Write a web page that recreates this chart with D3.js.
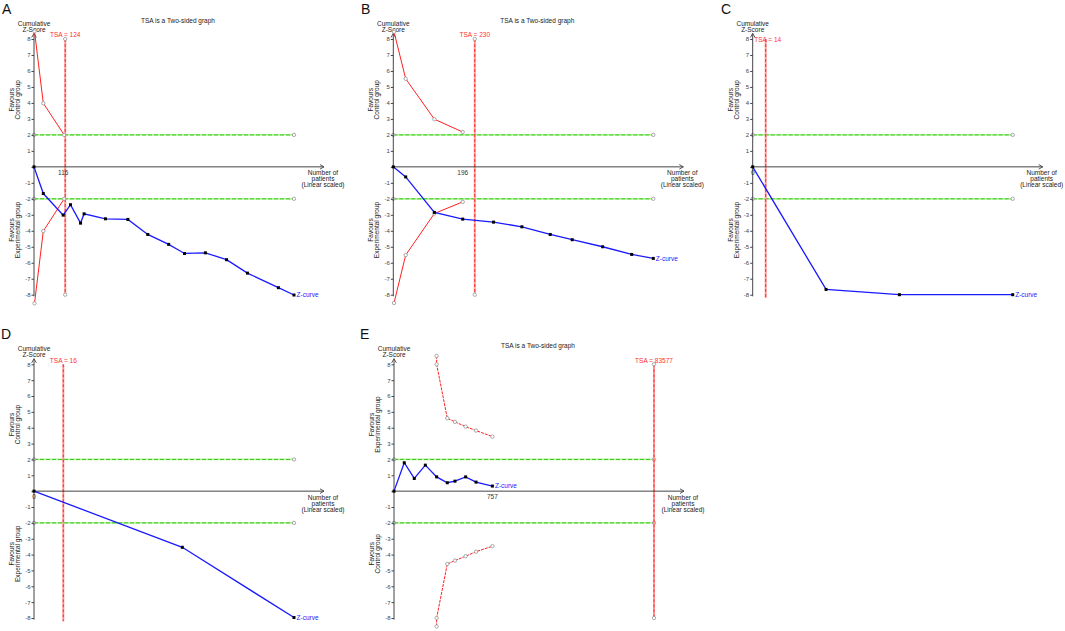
<!DOCTYPE html>
<html>
<head>
<meta charset="utf-8">
<script src="https://cdn.jsdelivr.net/npm/d3@7"></script>
<style>
body { margin: 0; background: #fff; }
svg { display: block; font-family: "Liberation Sans", Arial, sans-serif; }
</style>
</head>
<body>
<svg id="chart" width="1065" height="631"></svg>
<script>
// Every series is a list of [patients, cumulative Z-score]

// Panel A
const zCurveA = [[0,0],[37,-1.67],[116,-3.02],[145,-2.37],[185,-3.52],[199,-2.94],[284,-3.25],[373,-3.29],
                 [452,-4.23],[535,-4.85],[598,-5.42],[681,-5.38],[765,-5.81],[848,-6.65],[971,-7.56],[1033,-8.02]];
const upperA = [[2,8.48],[37,3.98],[120,2.0]];
const lowerA = [[2,-8.54],[37,-4.02],[120,-2.0]];

// Panel B
const zCurveB = [[0,0],[35,-0.63],[116,-2.85],[196,-3.27],[283,-3.46],[363,-3.75],[443,-4.23],[505,-4.56],
                 [591,-5.0],[673,-5.48],[734,-5.73]];
const upperB = [[2,8.45],[35,5.51],[116,2.98],[196,2.18]];
const lowerB = [[2,-8.52],[35,-5.52],[116,-2.92],[196,-2.19]];

// Panel C
const zCurveC = [[0,0],[79,-7.67],[158,-8.0],[280,-8.0]];

// Panel D
const zCurveD = [[0,0],[81,-3.54],[142,-7.97]];

// Panel E
const zCurveE = [[0,0],[79,1.79],[156,0.8],[241,1.64],[328,0.9],[410,0.53],[469,0.63],[551,0.9],[631,0.57],[757,0.32]];
const upperE = [[328,8.53],[328,8.0],[410,4.6],[469,4.37],[551,4.07],[631,3.82],[757,3.44]];
const lowerE = [[328,-8.53],[328,-8.0],[410,-4.59],[469,-4.38],[551,-4.1],[631,-3.82],[757,-3.47]];

// Required information size, x-axis tick and the longest x shown
const tsaValues = [124, 230, 14, 16, 83577];
const xTicks = [116, 196, 0, 0, 757];
const xMaxes = [1033, 734, 280, 142, 2000];
// The software pins an off-scale TSA (panel E) at the right end of the axis
const tsaPlotAt = [124, 230, 14, 16, 2000];

const zTicks = d3.range(-8, 9);

// Layout of the five panels (pixels only, no data)
const panels = [
  {letter: "A", lx: 2,   ly: 14,  ox: 34,    yTop: 39,    yBot: 294.7, title: true,  dots: true,  tsaDy: -2,  top: "Control group", bot: "Experimental group", z: zCurveA, up: upperA, lo: lowerA},
  {letter: "B", lx: 361, ly: 14,  ox: 393.3, yTop: 39,    yBot: 294.7, title: true,  dots: true,  tsaDy: -2,  top: "Control group", bot: "Experimental group", z: zCurveB, up: upperB, lo: lowerB},
  {letter: "C", lx: 721, ly: 14,  ox: 752.7, yTop: 39,    yBot: 294.7, title: false, dots: false, tsaDy: 2.5, top: "Control group", bot: "Experimental group", z: zCurveC},
  {letter: "D", lx: 1,   ly: 339, ox: 34,    yTop: 364.3, yBot: 618,   title: false, dots: false, tsaDy: -1,  top: "Control group", bot: "Experimental group", z: zCurveD},
  {letter: "E", lx: 360, ly: 339, ox: 394,   yTop: 364.3, yBot: 618,   title: true,  dots: true,  tsaDy: -1.5, top: "Experimental group", bot: "Control group", z: zCurveE, up: upperE, lo: lowerE}
];

const svg = d3.select("#chart");
const fs = 6.5;

function circleAt(g, cx, cy) {
  g.append("circle").attr("cx", cx).attr("cy", cy).attr("r", 1.7)
    .attr("fill", "#fff").attr("stroke", "#888").attr("stroke-width", 0.7);
}

function drawPanel(p, i) {
  let g = svg.append("g");
  let x = d3.scaleLinear().domain([0, xMaxes[i]]).range([p.ox, p.ox + 260]);
  let y = d3.scaleLinear().domain([-8, 8]).range([p.yBot, p.yTop]);
  let y0 = y(0);
  let xEnd = p.ox + 290;

  // Panel letter
  g.append("text").attr("x", p.lx).attr("y", p.ly).text(p.letter)
    .style("font-size", "14px").attr("fill", "#111");

  // Green conventional boundaries at +/-2
  for (let zb of [2, -2]) {
    g.append("line").attr("x1", x(0)).attr("x2", x(xMaxes[i])).attr("y1", y(zb)).attr("y2", y(zb))
      .attr("stroke", "#b6f0a0").attr("stroke-width", 1.8);
    g.append("line").attr("x1", x(0)).attr("x2", x(xMaxes[i])).attr("y1", y(zb)).attr("y2", y(zb))
      .attr("stroke", "#33cc11").attr("stroke-width", 1).attr("stroke-dasharray", "4,2");
    circleAt(g, x(0), y(zb));
    circleAt(g, x(xMaxes[i]), y(zb));
  }

  // TSA vertical line
  let tx = x(tsaPlotAt[i]);
  let tBot = p.dots ? y(-8) : y(-8.2);
  g.append("line").attr("x1", tx).attr("x2", tx).attr("y1", y(8)).attr("y2", tBot)
    .attr("stroke", "#ff9c9c").attr("stroke-width", 2);
  g.append("line").attr("x1", tx).attr("x2", tx).attr("y1", y(8)).attr("y2", tBot)
    .attr("stroke", "#ff2a2a").attr("stroke-width", 1).attr("stroke-dasharray", "3,2");
  if (p.dots) {
    circleAt(g, tx, y(8));
    circleAt(g, tx, y(-8));
  }
  g.append("text").attr("x", tx + (p.letter == "C" ? 2 : 0)).attr("y", y(8) + p.tsaDy)
    .attr("text-anchor", "middle").attr("fill", "#ff3030").style("font-size", fs + "px")
    .text("TSA = " + tsaValues[i]);

  // Y axis
  let yAxis = d3.axisLeft(y).tickValues(zTicks).tickSize(2.5).tickPadding(1)
    .tickFormat(d => d === 0 ? "" : String(d));
  let ya = g.append("g").attr("transform", `translate(${p.ox},0)`).call(yAxis);
  ya.select(".domain").remove();
  ya.selectAll("line").attr("stroke", "#444");
  ya.selectAll("text").attr("fill", "#444").style("font-size", "6px")
    .style("font-family", '"Liberation Sans", Arial, sans-serif');
  g.append("line").attr("x1", p.ox).attr("x2", p.ox).attr("y1", y(-8.1)).attr("y2", y(8.35))
    .attr("stroke", "#444").attr("stroke-width", 1);
  g.append("path").attr("d", `M${p.ox - 2.3},${y(8.35) + 4}L${p.ox},${y(8.35)}L${p.ox + 2.3},${y(8.35) + 4}`)
    .attr("fill", "none").attr("stroke", "#444").attr("stroke-width", 0.9);

  // X axis at z = 0
  g.append("line").attr("x1", p.ox).attr("x2", xEnd).attr("y1", y0).attr("y2", y0)
    .attr("stroke", "#444").attr("stroke-width", 1);
  g.append("path").attr("d", `M${xEnd - 4},${y0 - 2.3}L${xEnd},${y0}L${xEnd - 4},${y0 + 2.3}`)
    .attr("fill", "none").attr("stroke", "#444").attr("stroke-width", 0.9);
  g.append("text").attr("x", x(xTicks[i])).attr("y", y0 + 8).attr("text-anchor", "middle")
    .attr("fill", "#333").style("font-size", fs + "px").text(xTicks[i]);
  ["Number of", "patients", "(Linear scaled)"].forEach((s, k) => {
    g.append("text").attr("x", xEnd - 1).attr("y", y0 + 8.5 + k * 6).attr("text-anchor", "middle")
      .attr("fill", "#222").style("font-size", fs + "px").text(s);
  });

  // Axis titles
  ["Cumulative", "Z-Score"].forEach((s, k) => {
    g.append("text").attr("x", p.ox).attr("y", y(8) - 13 + k * 6).attr("text-anchor", "middle")
      .attr("fill", "#222").style("font-size", fs + "px").text(s);
  });
  [[p.top, 4.2], [p.bot, -3.95]].forEach(([lab, zc]) => {
    [["Favours", p.ox - 22], [lab, p.ox - 16]].forEach(([s, cx]) => {
      g.append("text").attr("transform", `translate(${cx + 2},${y(zc)}) rotate(-90)`)
        .attr("text-anchor", "middle").attr("fill", "#222").style("font-size", fs + "px").text(s);
    });
  });

  if (p.title) {
    g.append("text").attr("x", p.ox + 144).attr("y", y(8) - 16).attr("text-anchor", "middle")
      .attr("fill", "#222").style("font-size", fs + "px").text("TSA is a Two-sided graph");
  }

  // Monitoring boundaries (red)
  let line = d3.line().x(d => x(d[0])).y(d => y(d[1]));
  for (let b of [p.up, p.lo]) {
    if (!b) continue;
    g.append("path").datum(b).attr("d", line).attr("fill", "none")
      .attr("stroke", "#ff2020").attr("stroke-width", 1)
      .attr("stroke-dasharray", p.letter == "E" ? "3,1" : null);
    b.forEach(d => circleAt(g, x(d[0]), y(d[1])));
  }

  // Z-curve
  g.append("path").datum(p.z).attr("d", line).attr("fill", "none")
    .attr("stroke", "#1a1aff").attr("stroke-width", 1.3);
  g.selectAll(null).data(p.z).enter().append("rect")
    .attr("x", d => x(d[0]) - 1.5).attr("y", d => y(d[1]) - 1.5)
    .attr("width", 3).attr("height", 3).attr("fill", "#000");
  let last = p.z[p.z.length - 1];
  g.append("text").attr("x", x(last[0]) + 2.5).attr("y", y(last[1]) + 2.3)
    .attr("fill", "#2222ff").style("font-size", fs + "px").text("Z-curve");
}

panels.forEach(drawPanel);
</script>
</body>
</html>
